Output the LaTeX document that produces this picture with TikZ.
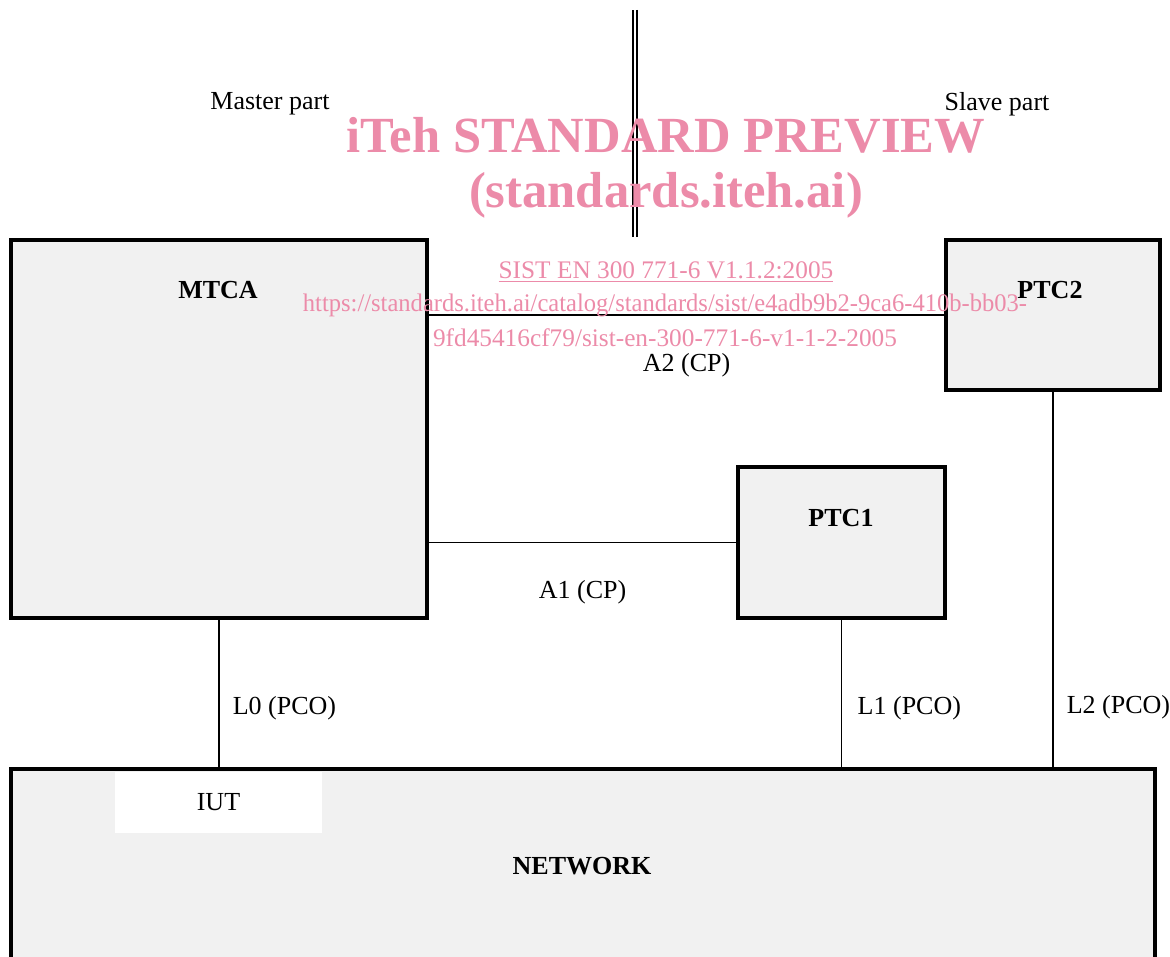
\documentclass[tikz,border=0pt]{standalone}
\usepackage{fontspec}
\setmainfont{Liberation Serif}
\usepackage{tikz}
\usetikzlibrary{positioning,calc}
\usepackage{xcolor}
\definecolor{boxgray}{HTML}{F1F1F1}
\definecolor{wmpink}{HTML}{EC8BA9}

\begin{document}
\begin{tikzpicture}[
    x=0.025cm, y=-0.025cm,
    entity/.style={draw=black,line width=2.8pt,fill=boxgray,inner sep=0pt},
    title/.style={font=\fontsize{18.5}{22}\selectfont\bfseries},
    txt/.style={font=\fontsize{18.5}{22}\selectfont},
    link/.style={line width=1.4pt},
    stamp/.style={color=wmpink},
    stampsmall/.style={color=wmpink,font=\fontsize{18}{21}\selectfont},
]
\clip (0,0) rectangle (1170,957);

% entities
\node[entity,minimum width=10.4cm,minimum height=9.45cm] (mtca) at (219,429) {};
\node[entity,minimum width=5.35cm,minimum height=3.75cm] (ptc2) at (1053,315) {};
\node[entity,minimum width=5.175cm,minimum height=3.775cm] (ptc1) at (841.5,542.5) {};
\node[entity,minimum width=28.6cm,minimum height=5.775cm] (net) at (583,884.5) {};
\node[fill=white,inner sep=0pt,minimum width=5.175cm,minimum height=1.525cm] (iut) at (218.5,802.5) {};

\node[title] (mtcaname) at (218,290) {MTCA};
\node[title] (ptc2name) at (1050,290) {PTC2};
\node[title] (ptc1name) at (841,518) {PTC1};
\node[title] (netname) at (582,866) {NETWORK};
\node[txt] (iutname) at (iut) {IUT};

% master / slave split
\coordinate (splittop) at (635,10);
\coordinate (splitbot) at (635,237);
\draw[line width=1.2pt,double,double distance=2pt] (splittop) -- (splitbot);
\node[txt] (master) at (270,104) {Master part};
\node[txt] (slave) at (997,104) {Slave part};

% connections
\draw[link] (mtca.east |- ptc2.west) -- node[txt,yshift=-1.25cm] {A2 (CP)} (ptc2.west);
\draw[link] (mtca.east |- ptc1.west) -- node[txt,yshift=-1.25cm] {A1 (CP)} (ptc1.west);
\draw[link] (mtca.south) -- node[txt,pos=0.6,anchor=west,inner sep=0pt,xshift=0.32cm] {L0 (PCO)} (mtca.south |- net.north);
\draw[link] (ptc1.south) -- node[txt,pos=0.6,anchor=west,inner sep=0pt,xshift=0.38cm] {L1 (PCO)} (ptc1.south |- net.north);
\draw[link] (ptc2.south) -- node[txt,pos=0.84,anchor=west,inner sep=0pt,xshift=0.32cm] {L2 (PCO)} (ptc2.south |- net.north);

% watermark
\node[stamp,font=\fontsize{36}{40}\selectfont\bfseries] (wm1) at (666,135) {iTeh STANDARD PREVIEW};
\node[stamp,font=\fontsize{36}{40}\selectfont\bfseries] (wm2) at (666,195) {(standards.iteh.ai)};
\node[stampsmall] (wm3) at (666,272) {\underline{SIST EN 300 771-6 V1.1.2:2005}};
\node[stampsmall] (wm4) at (665,305) {\scalebox{0.97}[1]{https://standards.iteh.ai/catalog/standards/sist/e4adb9b2-9ca6-410b-bb03-}};
\node[stampsmall] (wm5) at (665,338) {9fd45416cf79/sist-en-300-771-6-v1-1-2-2005};
\end{tikzpicture}
\end{document}
